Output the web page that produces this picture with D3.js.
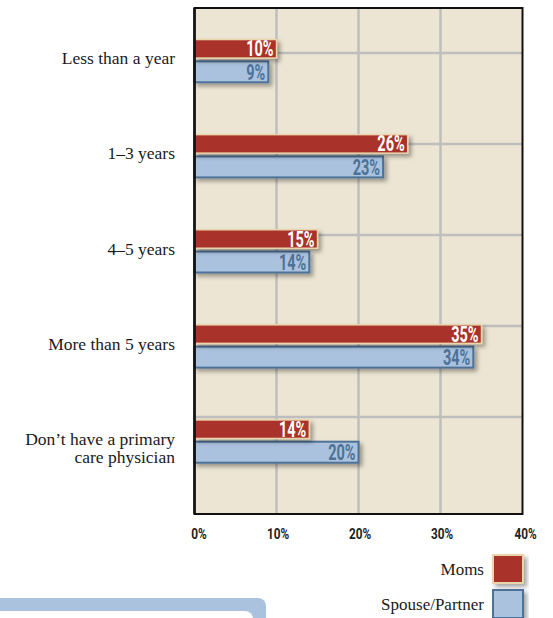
<!DOCTYPE html>
<html>
<head>
<meta charset="utf-8">
<script src="https://cdn.jsdelivr.net/npm/d3@7"></script>
<style>
  html, body { margin: 0; padding: 0; background: #ffffff; }
  svg { display: block; }
</style>
</head>
<body>
<div id="chart"></div>
<script>
// ---- data ----
const categories = [
  ["Less than a year"],
  ["1–3 years"],
  ["4–5 years"],
  ["More than 5 years"],
  ["Don’t have a primary", "care physician"]
];
const momsValues = [10, 26, 15, 35, 14];
const spouseValues = [9, 23, 14, 34, 20];
const seriesNames = ["Moms", "Spouse/Partner"];
const xTicks = [0, 10, 20, 30, 40];
const xTickLabels = ["0%", "10%", "20%", "30%", "40%"];

// ---- layout ----
const W = 553, H = 618;
const plot = { left: 194.5, right: 522.5, top: 8, bottom: 514 };
const colors = {
  red: "#a9302b", redStroke: "#ead5aa",
  blue: "#abc2de", blueStroke: "#4d7298",
  bg: "#ede5d3", grid: "#bebebe"
};

const svg = d3.select("#chart").append("svg")
  .attr("width", W).attr("height", H);

const defs = svg.append("defs");
const f = defs.append("filter").attr("id", "shadow")
  .attr("x", "-10%").attr("y", "-40%").attr("width", "130%").attr("height", "200%");
f.append("feDropShadow").attr("dx", 3).attr("dy", 3).attr("stdDeviation", 2)
  .attr("flood-color", "#000").attr("flood-opacity", 0.35);

const x = d3.scaleLinear().domain([0, 40]).range([plot.left, plot.right]);
const idx = d3.range(categories.length);
const y = d3.scaleBand().domain(idx).range([38.8, 38.8 + 95.1 * 5]);

// background
svg.append("rect")
  .attr("x", plot.left).attr("y", plot.top)
  .attr("width", plot.right - plot.left).attr("height", plot.bottom - plot.top)
  .attr("fill", colors.bg);

// grid: vertical
svg.append("g").selectAll("line").data(xTicks.slice(1, -1)).join("line")
  .attr("x1", d => x(d)).attr("x2", d => x(d))
  .attr("y1", plot.top).attr("y2", plot.bottom)
  .attr("stroke", colors.grid).attr("stroke-width", 2.5);

// grid: horizontal
const gy = d3.scaleLinear().domain([0, 5]).range([53, 508]);
svg.append("g").selectAll("line").data(d3.range(5)).join("line")
  .attr("x1", plot.left).attr("x2", plot.right)
  .attr("y1", d => gy(d)).attr("y2", d => gy(d))
  .attr("stroke", colors.grid).attr("stroke-width", 2.5);

// bars
const redH = 20, blueH = 22, gap = 2;
const bars = svg.append("g");
const groups = bars.selectAll("g.grp").data(idx).join("g").attr("class", "grp")
  .attr("transform", i => `translate(0,${y(i)})`);

groups.append("rect")
  .attr("x", x(0)).attr("y", redH + gap + 0.5)
  .attr("width", i => x(spouseValues[i]) - x(0)).attr("height", blueH - 1)
  .attr("fill", colors.blue).attr("stroke", colors.blueStroke).attr("stroke-width", 2)
  .attr("filter", "url(#shadow)");

groups.append("rect")
  .attr("x", x(0)).attr("y", 0.75)
  .attr("width", i => x(momsValues[i]) - x(0)).attr("height", redH - 1.5)
  .attr("fill", colors.red).attr("stroke", colors.redStroke).attr("stroke-width", 1.5)
  .attr("filter", "url(#shadow)");

const labelFont = "Roboto, 'DejaVu Sans', sans-serif";
const squeeze = 0.66;

groups.append("text")
  .attr("transform", i => `translate(${x(momsValues[i]) - 3},${redH / 2 + 7.5}) scale(${squeeze},1)`)
  .attr("text-anchor", "end")
  .attr("font-family", labelFont).attr("font-weight", "bold").attr("font-size", 22)
  .attr("fill", "#ffffff")
  .text(i => momsValues[i] + "%");

groups.append("text")
  .attr("transform", i => `translate(${x(spouseValues[i]) - 3},${redH + gap + blueH / 2 + 8}) scale(${squeeze},1)`)
  .attr("text-anchor", "end")
  .attr("font-family", labelFont).attr("font-weight", "bold").attr("font-size", 22)
  .attr("fill", colors.blueStroke)
  .text(i => spouseValues[i] + "%");

// frame
svg.append("rect")
  .attr("x", plot.left).attr("y", plot.top)
  .attr("width", plot.right - plot.left).attr("height", plot.bottom - plot.top)
  .attr("fill", "none").attr("stroke", "#111").attr("stroke-width", 2);
svg.append("line")
  .attr("x1", plot.left).attr("x2", plot.left)
  .attr("y1", plot.top).attr("y2", plot.bottom)
  .attr("stroke", "#111").attr("stroke-width", 2.5);

// x tick labels
svg.append("g").selectAll("text").data(xTicks).join("text")
  .attr("transform", (d, i) => `translate(${x(d) + (i === 0 ? 4.5 : i === 4 ? 3 : 1.5)},538.5) scale(0.76,1)`)
  .attr("text-anchor", "middle")
  .attr("font-family", labelFont).attr("font-weight", "bold").attr("font-size", 15.5)
  .attr("fill", "#222")
  .text((d, i) => xTickLabels[i]);

// category labels
const serif = "'Liberation Serif', 'DejaVu Serif', serif";
const catG = svg.append("g").selectAll("text").data(idx).join("text")
  .attr("text-anchor", "end")
  .attr("font-family", serif).attr("font-size", 17.5).attr("fill", "#1a1a1a")
  .attr("transform", i => `translate(175,${y(i) + 25.5})`);
catG.each(function(i) {
  d3.select(this).selectAll("tspan").data(categories[i]).join("tspan")
    .attr("x", 0)
    .attr("y", (d, k) => k * 18.5)
    .text(d => d);
});

// bottom-left decorative box
svg.append("rect").attr("x", -20).attr("y", 598).attr("width", 286).attr("height", 60)
  .attr("rx", 8).attr("fill", colors.blue);
svg.append("rect").attr("x", -20).attr("y", 611).attr("width", 273).attr("height", 60)
  .attr("rx", 8).attr("fill", "#ffffff");

// legend
const legend = svg.append("g");
const legendItems = [
  { name: seriesNames[0], fill: colors.red, stroke: colors.redStroke, sw: 2 },
  { name: seriesNames[1], fill: colors.blue, stroke: colors.blueStroke, sw: 2 }
];
const lg = legend.selectAll("g").data(legendItems).join("g")
  .attr("transform", (d, i) => `translate(0,${555 + i * 35})`);
lg.append("rect").attr("x", 493).attr("y", 0).attr("width", 30).attr("height", 28)
  .attr("fill", d => d.fill).attr("stroke", d => d.stroke).attr("stroke-width", d => d.sw)
  .attr("filter", "url(#shadow)");
lg.append("text").attr("x", 484).attr("y", 20)
  .attr("text-anchor", "end")
  .attr("font-family", serif).attr("font-size", 17).attr("fill", "#1a1a1a")
  .text(d => d.name);
</script>
</body>
</html>
